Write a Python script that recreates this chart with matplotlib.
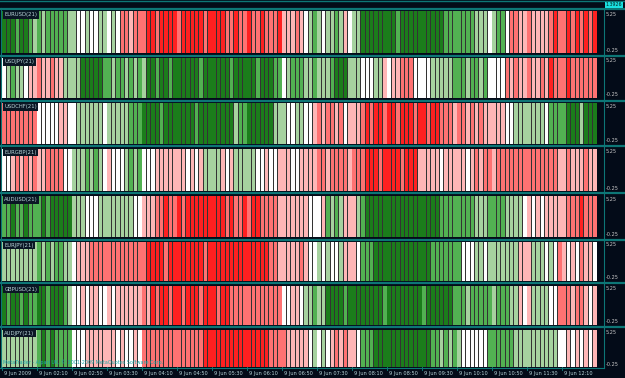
import numpy as np
import matplotlib
matplotlib.use("Agg")
import matplotlib.pyplot as plt
from matplotlib.lines import Line2D

# ---------------- data (strength level per M5 bar: 3=strong up ... -3=strong down)
symbols = ["EURUSD(21)", "USDJPY(21)", "USDCHF(21)", "EURGBP(21)",
           "AUDUSD(21)", "EURJPY(21)", "GBPUSD(21)", "AUDJPY(21)"]

eurusd = [3,3,3,2,3,3,2, 1,2,1,2,2,2, 2,2,1, 1, 0,0,1,0,0,1, 1,0,1,0,
          -2,-2,-1,-2,-2,-2,
          -3,-3,-2,-3,-3,-3,-3,-2,-3,-3,-3,-3,-3,-2,-3,-3,-3,-3,-2,
          -2,-3,-2,-2,-3,-2,-2,-3, -2,-2,-2,-3, -1,-1,-1,-2, -1,0,
          1,2,1,0,1,1,2,1, -1, 0,1,1, 3,3,3,3,3,3,3,3, 2,
          3,3,3,3,3,3,3,3,3,3, 2,2,2,2,2,2,2, 1,1,1, 0, 1,2,2, 0,
          -2,-2,-1,-1,-2,-1, -1,-1,-1, -2,-3,-2,-2, -3,-2,-3,-2,-3,-2,-3]
usdjpy = [0, 1,2,1,1, 0, -1,-1,-2,-1,-1,-2,-1,-1, 1,1,1,1, 3,3,3,3,3,
          2,2,1,2,2, 1,2,1,2,1, 3,3,2,3,3,2,3,3,
          3,3,3,3,2,3,3,3,3,3,3,2,3,3,3,3,3,2,3,3,3, 2,2, 0, 1,2,2,
          2, 1,1,2,1,1,1,2, 3,3,3, 1,1,1, 0,0,0, 1,1, -1,0,-1,
          -1,-2,-2,-2, 0,0,0,0, 1,1,1,1,1, 2,2,2,1,2,2,1,2, 0,0,0,0,
          -2,-1,-2,-1,-1,-2,-1,-1,-2,-1, -3, -2,-2,-2,-3,-2,-2,-2,-2,-2,-2]
usdchf = [-2,-2,-2,-2,-2,-2,-2,-2, 0,0,0,0,0, -1,-1, 0,0, 1,1,1,1,1,1, 0,
          1,1,1,1,1, 2,2,2,
          3,3,3,3,2,3,3,3,3,3,3,3,2,3,3,3,3,3,3,3,3,
          1,2,2, 3,3,3,3,3,3, 1,1,1, 0,0, 1,
          1, 0,0, -1,-2,-1,-2,-2,-1,-2, 0, -1,-1,-1,
          -2,-3,-2,-3,-3,-2,-3,-3,-2,-3,-3,-3,-2,-3,-3,-2,-3,-3,
          -2,-2,-2,-1,-2,-2,-1,-2,-1,-2,-1, -1,-1,-1,-1, 0,0,
          1,1,1,1,1,1,1,0, 2,2,2,2, 3,3,3,1,3,3,3]
eurgbp = [0,0, -1,-2,-1,-2,-1,-2,-1,-1, -2,-2,-2,-2, 0,0, 1,1,1,2,1,2,1,
          0,-1,0, 0,0, 1,2,1,2, 0,0,0, -1,-1,-1,-1,-1,-1, -1,0,-1,0,-1,
          1,1,1,1, -1,0,-1, 1,1,1,1,1, 0,0,-1,0,0,-1, -1,-1, 0,0,
          -1,-1,-1,-1, -2,-2,-1,-2,-2,-2,-2,-1,-2,-2,-2,
          -3,-3,-3,-2,-3,-3,-3,-3,-2,-3,-3,-3, -1,-1,-1,-1,-1, 0,
          -1,-1,-1,-1,-1, 0, -1,-2,-1,-2,-2,-1,-2,-2,
          -2,-2,-2,-2,-2,-2,-2,-2,-2,-2,-2,-2, -1,-1,-2,-1,-1,-1,-2,-1,-1]
audusd = [2,2,3,2,2,3,2,2,2,3,2, 3,3,3,3,3, 1,1,1, 0,0,0, 1,1,1,1,1,1,1,1,
          0,0, -1,-1,-1, -2,-2,-3,-2,-2,-3,-2,-3,-3, -3,-3,-3,-3,-3,-3,
          -3,-2,-3,-2,-2,-3,-2,-3,-3,-2, -2,-2,-2, -1,-1,-1,-1,-1,
          -1,-1, 0,0,0, -1, 2,1,2,1, -1,-1,-1, 1,2,
          3,3,3,3,3,3,3,3,3,3,3,3,3,3,3,3,3, 2,2,2,2,2,2,2,2, 1,1,1,
          2,2,2,2, 1,1,1,1, 0, -1, 0,-1,0,-1, -1,-1,-1,-1,
          -2,-2,-2,-3,-2,-2,-2]
eurjpy = [1,1,1,1,1,1,1,1, 2,1,2,1,2,2,1,1, 0, -1,-1,-1,
          -2,-2,-2,-2,-2,-2,-2,-2,-2,-2,-2,-2,-2,
          -3,-3,-3,-3,-2,-3,-3,-3,-3,-3,-3,-3,-3,-2,-3,-3,-3,-3,-3,-3,
          -3,-3,-3,-3,-3,-3,-3,-3,-2,-2, -1,-1,-1,-1,-1,
          -2, -1,0, 0,1,0,1,0,0,1, -1,-1,-1, 0, 2,2,2,
          3,3,3,3,3,3,3,3,3,3,3,3,3, 2,2,2,2,2,2,2, 0,0,0,
          1,1,0,1,1,1,1,1,1,1, -1,-1,-1, 1,1,1, 0,1,0, -2,
          -1,0,-1,0,-2,-1,-1,0]
gbpusd = [3,2,3,3,2,3,2,2,3,3,2,3,3,3,2,1, 0,0,-1,0,-1,-1,0,0,-1,0,
          -1,-1,-1,-1,-1, -1,-2,-1,
          -3,-2,-3,-3,-2,-3,-3,-2,-3,-3,-3,-2,-3,-3,-3,-2,-3,-3,-2,
          -2,-2,-2,-2,-2,-2,-2,-2,-2,-2,-2, 0,0, -1,-1,
          0, 1,1,2,1,1,
          3,3,3,3,2,3,3,3,3,3,3,3,3,2,3,3,3,3,3,3,3,3,2,3,3,3,3,3,3,2,
          2,2,1,2,2,2,2,2,1,2,2,2,1,1, -1,0,-1, 1,1,1,1, 0,0,
          -2,-2,-2,-1,-2,-2,-1, 0,-1]
audjpy = [1,1,1,1,1,1,1,1, 2,3,2,3,2,2,2,2, 0,0,0, -1,-1,-1,-1,-1,-1,-1,
          0,-1,0,0,-1,0, -2,-2,-2,-2,-2,-2,-2,-2,-2,-2,-2,-2,-2,-2,
          -3,-3,-3,-3,-3,-3,-3,-3,-3,-3,-3,-3,-3,-3,-3, -2,-2,-2,-2,
          -1,-1,-1, -1,-1, 0,1,0,1, 0, -1,-2,-1,-2, -1,-1,0, 2,2,2,
          3,3,3,3,3,3,3,3,3,3,3,3,3, 2,2,1,2,1,2,1, 0,0,0,0,0,0,
          2,2,2,2,2,2, 1,1,1,1,1,1,1,1,1,1, 0,0, -1,0,-1,0,-1,0,-1]
series = [eurusd, usdjpy, usdchf, eurgbp, audusd, eurjpy, gbpusd, audjpy]

lens = [len(s) for s in series]
if any(n != 136 for n in lens):
    raise SystemExit("LENGTHS: %s" % lens)

tick_bars = [0, 8, 16, 24, 32, 40, 48, 56, 64, 72, 80, 88, 96, 104, 112, 120, 128]
tick_labels = ["9 Jun 2009", "9 Jun 02:10", "9 Jun 02:50", "9 Jun 03:30",
               "9 Jun 04:10", "9 Jun 04:50", "9 Jun 05:30", "9 Jun 06:10",
               "9 Jun 06:50", "9 Jun 07:30", "9 Jun 08:10", "9 Jun 08:50",
               "9 Jun 09:30", "9 Jun 10:10", "9 Jun 10:50", "9 Jun 11:30",
               "9 Jun 12:10"]
ymax_label, ymin_label = "5.25", "-0.25"

# ---------------- style
level_colors = {3: "#1b7d1b", 2: "#52b152", 1: "#a6d29f", 0: "#ffffff",
                -1: "#ffb6b6", -2: "#ff7272", -3: "#ff2020"}
BG = "#030b18"
TEAL = "#0d7676"
TXT = "#b8d4d8"

W, H = 625, 378
fig = plt.figure(figsize=(W / 100, H / 100), dpi=100, facecolor=BG)

def fx(px):
    return px / W

def fy(py):
    return 1 - py / H

seps = [8.5, 55.5, 100.5, 146.0, 193.5, 239.5, 283.0, 327.0]
x_left, x_right = 2.0, 597.0

axes = []
for i, (name, vals) in enumerate(zip(symbols, series)):
    top = seps[i] + 2.5
    bot = seps[i + 1] - 2.5 if i < 7 else 367.0
    ax = fig.add_axes([fx(x_left), fy(bot), fx(x_right - x_left), (bot - top) / H])
    ax.set_facecolor("#333333")
    n = len(vals)
    xs = np.arange(n)
    cols = [level_colors[v] for v in vals]
    ax.bar(xs, np.ones(n), width=0.78, bottom=0, color=cols, linewidth=0)
    ax.set_xlim(-0.5, 135.5)
    ax.set_ylim(0, 1)
    ax.set_xticks([])
    ax.set_yticks([])
    for s in ax.spines.values():
        s.set_visible(False)
    ax.text(0.004, 0.97, name, transform=ax.transAxes, ha="left", va="top",
            fontsize=3.8, color=TXT,
            bbox=dict(boxstyle="square,pad=0.25", facecolor="#0a1624", edgecolor="none"))
    fig.text(fx(606), fy(top + 3), ymax_label, fontsize=3.6, color="#c8c8c8",
             ha="left", va="center")
    fig.text(fx(606), fy(bot - 3), ymin_label, fontsize=3.6, color="#c8c8c8",
             ha="left", va="center")
    axes.append(ax)

# separators / frame lines
for s in seps:
    fig.add_artist(Line2D([0, 1], [fy(s), fy(s)], color=TEAL, lw=1.6,
                          transform=fig.transFigure))
fig.add_artist(Line2D([0, 1], [fy(1), fy(1)], color=TEAL, lw=1.0,
                      transform=fig.transFigure))
fig.add_artist(Line2D([fx(603.5), fx(603.5)], [fy(8), fy(368)], color=TEAL, lw=0.8,
                      transform=fig.transFigure))
fig.add_artist(Line2D([fx(0.7), fx(0.7)], [fy(8), fy(368)], color=TEAL, lw=0.8,
                      transform=fig.transFigure))
fig.add_artist(Line2D([0, fx(603.5)], [fy(368), fy(368)], color=TEAL, lw=0.8,
                      transform=fig.transFigure))

# top-right price box
fig.text(fx(614), fy(5), "1.3926", fontsize=3.4, color="#002020", ha="center",
         va="center",
         bbox=dict(boxstyle="square,pad=0.2", facecolor="#19e0e0", edgecolor="none"))

# time axis
axb = axes[-1]
for b, lab in zip(tick_bars, tick_labels):
    axb.plot([b - 0.5, b - 0.5], [-0.0, -0.07], color=TEAL, lw=0.7,
             clip_on=False, transform=axb.get_xaxis_transform())
    axb.text(b - 0.5 + 0.45, -0.17, lab, transform=axb.get_xaxis_transform(),
             ha="left", va="center", fontsize=3.6, color=TXT, clip_on=False)

# copyright
fig.text(fx(3), fy(362), "MetaTrader - Alpari UK, \u00a9 2001-2009 MetaQuotes Software Corp.",
         fontsize=3.5, color="#1fa8a8", ha="left", va="center")

fig.savefig("out.png", dpi=100, facecolor=BG)
